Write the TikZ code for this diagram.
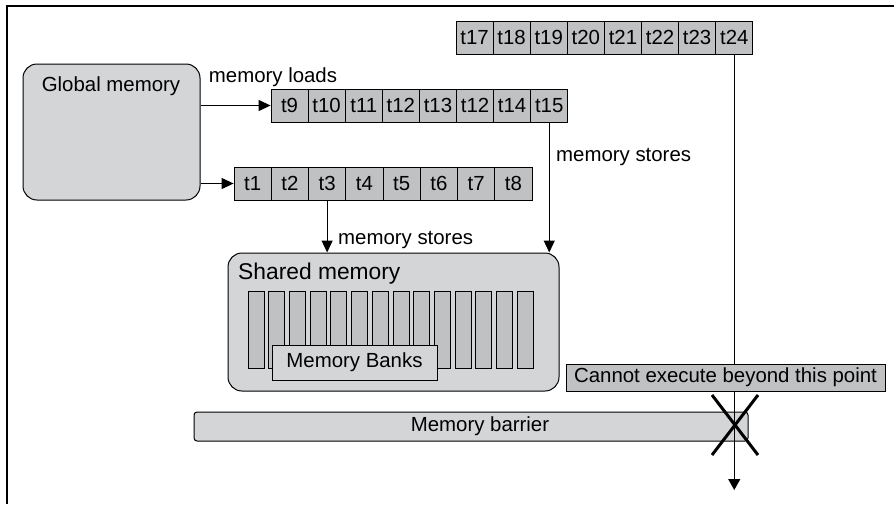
\documentclass[tikz,border=0pt]{standalone}
\usepackage{fontspec}
\setmainfont{Liberation Sans}
\usetikzlibrary{arrows.meta}
\definecolor{lightfill}{RGB}{212,213,215}
\definecolor{cellfill}{RGB}{192,193,195}

\begin{document}
\begin{tikzpicture}[x=1pt,y=-1pt,
  font=\fontsize{20.4}{24}\selectfont,
  box/.style={draw, line width=1pt, fill=lightfill, inner sep=0pt},
  cell/.style={draw, line width=0.8pt, fill=cellfill, inner sep=0pt,
    minimum width=37.1pt, minimum height=33pt},
  lbl/.style={inner sep=0pt},
  arr/.style={line width=1.2pt, -{Triangle[length=12pt,width=11pt]}}]
  \useasboundingbox (0,0) rectangle (894,504);
  \draw[line width=1.6pt] (7,504) -- (7,6) -- (894,6); % frame

  \node[box, rounded corners=14pt, minimum width=177pt, minimum height=136pt] (gmem) at (111.5,132) {};
  \node[lbl] (gmemtext) at (111,86) {Global memory};

  % thread rows
  \foreach \t [count=\i] in {9,10,11,12,13,12,14,15}
    \node[cell] (a\i) at ({271+37.1*(\i-0.5)},105.5) {t\t};
  \foreach \t [count=\i] in {1,...,8}
    \node[cell, minimum width=37.25pt] (b\i) at ({234+37.25*(\i-0.5)},183.5) {t\t};
  \foreach \t [count=\i] in {17,...,24}
    \node[cell] (c\i) at ({456+37.1*(\i-0.5)},37.5) {t\t};

  % shared memory
  \node[box, rounded corners=14pt, minimum width=331pt, minimum height=138pt] (shmem) at (393.5,322) {};
  \node[lbl, anchor=west, font=\fontsize{22.8}{26}\selectfont] (shmemtext) at (238,274) {Shared memory};
  \foreach \i in {0,...,13}
    \draw[line width=0.8pt, fill=cellfill] ({248+20.7*\i},291) rectangle +(16,77);
  \node[box, minimum width=165pt, minimum height=35pt] (banks) at (354.5,362.5) {Memory Banks};

  \draw[arr] (gmem.east |- a1.west) -- (a1.west);
  \draw[arr] (gmem.east |- b1.west) -- (b1.west);
  \draw[arr] (b3.south) -- (b3.south |- shmem.north);
  \draw[arr] (a8.south) -- (a8.south |- shmem.north);
  \node[lbl] (loads) at (273,77) {memory loads};
  \node[lbl, anchor=west] (stores1) at (338,240) {memory stores};
  \node[lbl, anchor=west] (stores2) at (556,157) {memory stores};

  % barrier
  \node[box, rounded corners=3pt, minimum width=554pt, minimum height=29pt] (barrier) at (471,426.5) {};
  \node[lbl] (barriertext) at (480,426) {Memory barrier};
  \coordinate (end) at (735,490);
  \draw[line width=1.2pt, -{Triangle[length=11pt,width=12pt]}] (c8.south) -- (c8.south |- end);
  \draw[line width=3pt] (712,395) -- (758,455) (758,395) -- (712,455);
  \node[box, fill=cellfill, minimum width=319pt, minimum height=27pt] (stop) at (725.5,377.5) {Cannot execute beyond this point};
\end{tikzpicture}
\end{document}
